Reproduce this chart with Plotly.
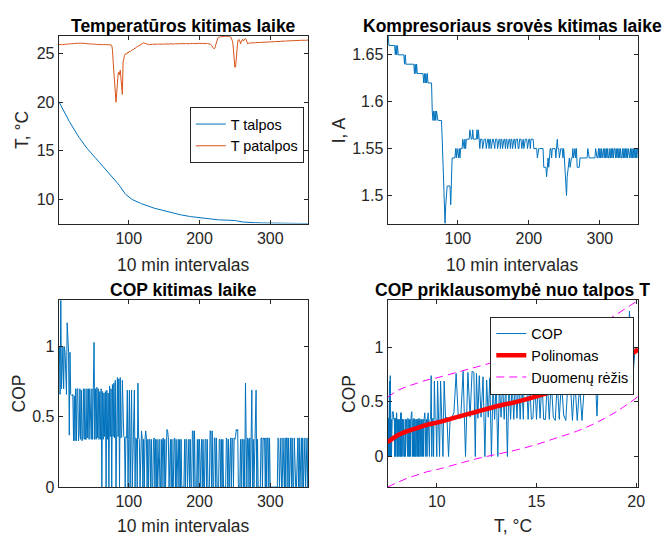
import plotly.graph_objects as go

# ---------------------------------------------------------------- data
# Tank temperature, room temperature, compressor current and COP,
# one value per 10 min interval.
t_talpos = [
    20.10, 19.95, 19.80, 19.66, 19.52, 19.38, 19.24, 19.10, 18.96, 18.82,
    18.68, 18.55, 18.42, 18.29, 18.16, 18.03, 17.90, 17.77, 17.64, 17.52,
    17.40, 17.28, 17.16, 17.04, 16.92, 16.80, 16.69, 16.58, 16.47, 16.36,
    16.25, 16.14, 16.04, 15.94, 15.84, 15.74, 15.64, 15.54, 15.45, 15.36,
    15.27, 15.18, 15.09, 15.00, 14.91, 14.82, 14.74, 14.66, 14.58, 14.50,
    14.42, 14.34, 14.26, 14.18, 14.10, 14.02, 13.94, 13.86, 13.78, 13.70,
    13.62, 13.54, 13.46, 13.38, 13.30, 13.22, 13.14, 13.06, 12.98, 12.90,
    12.82, 12.74, 12.66, 12.58, 12.50, 12.41, 12.32, 12.22, 12.13, 12.06,
    11.99, 11.93, 11.86, 11.77, 11.67, 11.56, 11.44, 11.32, 11.20, 11.08,
    10.97, 10.86, 10.76, 10.67, 10.59, 10.51, 10.44, 10.37, 10.31, 10.25,
    10.19, 10.14, 10.09, 10.04, 10.00, 9.96, 9.92, 9.88, 9.84, 9.81,
    9.78, 9.75, 9.72, 9.69, 9.66, 9.63, 9.60, 9.57, 9.54, 9.51,
    9.48, 9.45, 9.42, 9.40, 9.37, 9.34, 9.32, 9.29, 9.27, 9.24,
    9.22, 9.20, 9.17, 9.15, 9.13, 9.11, 9.09, 9.07, 9.05, 9.03,
    9.01, 8.99, 8.97, 8.95, 8.93, 8.91, 8.89, 8.87, 8.85, 8.83,
    8.81, 8.79, 8.77, 8.75, 8.73, 8.71, 8.69, 8.67, 8.66, 8.64,
    8.62, 8.60, 8.59, 8.57, 8.55, 8.54, 8.52, 8.51, 8.49, 8.48,
    8.46, 8.45, 8.43, 8.42, 8.40, 8.39, 8.38, 8.36, 8.35, 8.34,
    8.32, 8.31, 8.30, 8.29, 8.27, 8.26, 8.25, 8.24, 8.23, 8.22,
    8.21, 8.20, 8.19, 8.18, 8.17, 8.16, 8.15, 8.14, 8.13, 8.12,
    8.11, 8.10, 8.09, 8.08, 8.07, 8.06, 8.05, 8.05, 8.04, 8.03,
    8.02, 8.01, 8.00, 8.00, 7.99, 7.98, 7.97, 7.97, 7.96, 7.95,
    7.95, 7.94, 7.93, 7.93, 7.92, 7.92, 7.91, 7.91, 7.90, 7.90,
    7.89, 7.89, 7.88, 7.88, 7.88, 7.87, 7.87, 7.87, 7.87, 7.88,
    7.88, 7.89, 7.89, 7.90, 7.90, 7.90, 7.89, 7.88, 7.87, 7.85,
    7.83, 7.81, 7.79, 7.77, 7.75, 7.74, 7.73, 7.72, 7.71, 7.70,
    7.69, 7.68, 7.68, 7.67, 7.67, 7.66, 7.66, 7.65, 7.65, 7.64,
    7.64, 7.64, 7.63, 7.63, 7.63, 7.62, 7.62, 7.62, 7.61, 7.61,
    7.61, 7.61, 7.60, 7.60, 7.60, 7.60, 7.59, 7.59, 7.59, 7.59,
    7.59, 7.58, 7.58, 7.58, 7.58, 7.58, 7.57, 7.57, 7.57, 7.57,
    7.57, 7.57, 7.56, 7.56, 7.56, 7.56, 7.56, 7.56, 7.55, 7.55,
    7.55, 7.55, 7.55, 7.55, 7.55, 7.55, 7.54, 7.54, 7.54, 7.54,
    7.54, 7.54, 7.54, 7.54, 7.54, 7.54, 7.54, 7.54, 7.54, 7.54,
    7.54, 7.54, 7.53, 7.54, 7.54, 7.53, 7.54, 7.53, 7.54, 7.53,
    7.53, 7.54, 7.53, 7.53, 7.54, 7.53, 7.53, 7.53, 7.53, 7.53,
    7.53, 7.53, 7.53, 7.53,
]

t_patalpos = [
    25.92, 25.94, 25.90, 25.93, 25.95, 25.91, 25.93, 25.96, 25.94, 25.95,
    25.97, 25.95, 25.98, 25.96, 26.00, 25.98, 26.01, 25.99, 26.02, 26.00,
    26.03, 26.01, 26.04, 26.02, 26.05, 26.03, 26.06, 26.08, 26.05, 26.07,
    26.09, 26.06, 26.08, 26.05, 26.07, 26.04, 26.06, 26.03, 26.05, 26.02,
    26.03, 26.00, 26.02, 25.99, 26.01, 25.98, 26.00, 25.97, 25.99, 25.96,
    25.98, 25.95, 25.97, 25.94, 25.96, 25.93, 25.95, 25.92, 25.94, 25.93,
    25.95, 25.92, 25.94, 25.91, 25.93, 25.92, 25.94, 25.91, 25.93, 25.92,
    25.93, 25.91, 25.92, 25.90, 25.88, 25.85, 25.40, 24.20, 22.80, 21.60,
    20.60, 20.00, 20.90, 22.20, 22.90, 23.10, 22.80, 23.30, 22.60, 21.20,
    20.80, 24.10, 24.60, 24.80, 24.95, 25.00, 24.95, 25.10, 25.05, 25.20,
    25.25, 25.20, 25.32, 25.30, 25.40, 25.38, 25.48, 25.50, 25.58, 25.60,
    25.66, 25.70, 25.75, 25.80, 25.86, 25.90, 25.95, 26.00, 26.05, 26.08,
    26.10, 26.08, 26.05, 26.00, 25.98, 25.95, 25.93, 25.92, 25.94, 25.93,
    25.95, 25.94, 25.96, 25.95, 25.97, 25.96, 25.98, 25.96, 25.97, 25.95,
    25.96, 25.98, 25.97, 25.99, 25.97, 25.98, 25.96, 25.98, 25.97, 25.99,
    25.98, 26.00, 25.98, 25.99, 25.97, 25.99, 25.98, 26.00, 25.99, 26.01,
    25.99, 26.00, 25.98, 26.01, 25.99, 26.02, 26.00, 26.01, 25.99, 26.02,
    26.00, 26.02, 26.01, 26.03, 26.01, 26.02, 26.00, 26.03, 26.01, 26.02,
    26.03, 26.01, 26.04, 26.02, 26.03, 26.01, 26.04, 26.02, 26.05, 26.03,
    26.04, 26.02, 26.05, 26.03, 26.04, 26.02, 26.05, 26.03, 26.06, 26.04,
    26.05, 26.03, 26.06, 26.04, 26.05, 26.03, 26.06, 26.04, 26.05, 26.03,
    26.04, 26.02, 26.03, 26.01, 26.00, 25.95, 25.85, 25.70, 25.58, 25.52,
    25.50, 25.60, 25.90, 26.20, 26.45, 26.60, 26.65, 26.70, 26.72, 26.75,
    26.74, 26.76, 26.75, 26.77, 26.76, 26.78, 26.77, 26.79, 26.78, 26.80,
    26.78, 26.76, 26.74, 26.70, 26.60, 26.35, 26.20, 25.40, 24.20, 23.60,
    23.62, 24.80, 25.80, 26.20, 26.40, 26.45, 26.30, 26.00, 26.20, 26.40,
    26.48, 26.30, 26.35, 26.50, 26.55, 26.45, 26.20, 26.00, 26.05, 26.10,
    26.08, 26.10, 26.09, 26.11, 26.10, 26.12, 26.10, 26.11, 26.13, 26.12,
    26.13, 26.12, 26.14, 26.13, 26.15, 26.14, 26.16, 26.15, 26.17, 26.16,
    26.17, 26.16, 26.18, 26.17, 26.19, 26.18, 26.20, 26.19, 26.21, 26.20,
    26.21, 26.20, 26.22, 26.21, 26.23, 26.22, 26.24, 26.23, 26.25, 26.24,
    26.25, 26.24, 26.26, 26.25, 26.27, 26.26, 26.28, 26.27, 26.29, 26.28,
    26.29, 26.28, 26.30, 26.29, 26.31, 26.30, 26.32, 26.31, 26.33, 26.32,
    26.33, 26.32, 26.34, 26.33, 26.35, 26.34, 26.35, 26.34, 26.36, 26.35,
    26.36, 26.35, 26.37, 26.36, 26.37, 26.36, 26.38, 26.37, 26.38, 26.37,
    26.38, 26.37, 26.38, 26.38,
]

srove = [
    1.67, 1.67, 1.66, 1.66, 1.66, 1.66, 1.66, 1.66, 1.66, 1.66,
    1.66, 1.65, 1.66, 1.65, 1.66, 1.65, 1.65, 1.65, 1.65, 1.65,
    1.65, 1.65, 1.65, 1.65, 1.64, 1.65, 1.64, 1.64, 1.64, 1.64,
    1.64, 1.64, 1.64, 1.64, 1.64, 1.64, 1.64, 1.64, 1.63, 1.64,
    1.63, 1.64, 1.63, 1.63, 1.63, 1.63, 1.63, 1.63, 1.63, 1.63,
    1.63, 1.62, 1.63, 1.62, 1.63, 1.62, 1.63, 1.62, 1.62, 1.62,
    1.62, 1.62, 1.62, 1.59, 1.58, 1.59, 1.58, 1.59, 1.58, 1.59,
    1.58, 1.58, 1.58, 1.58, 1.58, 1.58, 1.58, 1.56, 1.53, 1.50,
    1.50, 1.47, 1.49, 1.51, 1.51, 1.51, 1.51, 1.51, 1.51, 1.49,
    1.52, 1.54, 1.54, 1.54, 1.54, 1.54, 1.55, 1.54, 1.55, 1.54,
    1.54, 1.55, 1.54, 1.55, 1.55, 1.55, 1.56, 1.55, 1.55, 1.56,
    1.55, 1.56, 1.56, 1.56, 1.56, 1.56, 1.57, 1.56, 1.56, 1.56,
    1.57, 1.56, 1.56, 1.56, 1.56, 1.56, 1.57, 1.56, 1.57, 1.56,
    1.55, 1.56, 1.56, 1.56, 1.55, 1.56, 1.56, 1.56, 1.56, 1.55,
    1.56, 1.56, 1.56, 1.55, 1.56, 1.56, 1.55, 1.56, 1.56, 1.56,
    1.55, 1.55, 1.56, 1.56, 1.56, 1.55, 1.56, 1.56, 1.56, 1.55,
    1.56, 1.56, 1.55, 1.56, 1.56, 1.56, 1.55, 1.56, 1.56, 1.55,
    1.56, 1.56, 1.56, 1.55, 1.56, 1.56, 1.55, 1.56, 1.56, 1.56,
    1.55, 1.56, 1.56, 1.56, 1.55, 1.55, 1.56, 1.56, 1.56, 1.55,
    1.56, 1.56, 1.55, 1.56, 1.56, 1.56, 1.56, 1.55, 1.56, 1.56,
    1.56, 1.55, 1.56, 1.56, 1.56, 1.56, 1.55, 1.55, 1.55, 1.55,
    1.55, 1.54, 1.55, 1.55, 1.55, 1.55, 1.55, 1.55, 1.55, 1.55,
    1.53, 1.53, 1.53, 1.53, 1.52, 1.53, 1.54, 1.53, 1.55, 1.55,
    1.55, 1.54, 1.55, 1.55, 1.55, 1.55, 1.55, 1.54, 1.55, 1.56,
    1.55, 1.55, 1.54, 1.55, 1.55, 1.55, 1.55, 1.54, 1.55, 1.54,
    1.53, 1.52, 1.50, 1.52, 1.53, 1.53, 1.54, 1.53, 1.54, 1.54,
    1.54, 1.55, 1.54, 1.55, 1.55, 1.54, 1.55, 1.53, 1.53, 1.53,
    1.53, 1.54, 1.54, 1.54, 1.54, 1.54, 1.54, 1.54, 1.54, 1.54,
    1.54, 1.54, 1.55, 1.54, 1.54, 1.54, 1.54, 1.54, 1.54, 1.54,
    1.54, 1.54, 1.54, 1.55, 1.54, 1.54, 1.54, 1.55, 1.54, 1.55,
    1.54, 1.55, 1.54, 1.55, 1.55, 1.54, 1.55, 1.54, 1.55, 1.54,
    1.55, 1.54, 1.54, 1.55, 1.54, 1.55, 1.54, 1.55, 1.54, 1.55,
    1.55, 1.54, 1.55, 1.54, 1.55, 1.54, 1.55, 1.54, 1.55, 1.54,
    1.54, 1.55, 1.54, 1.55, 1.54, 1.55, 1.54, 1.55, 1.54, 1.55,
    1.54, 1.54, 1.55, 1.54, 1.55, 1.54, 1.55, 1.54, 1.55, 1.54,
    1.55, 1.54, 1.55, 1.55,
]

cop = [
    0.96, 1.00, 0.66, 1.33, 0.70, 0.96, 1.00, 0.70, 1.00, 0.96,
    0.70, 0.66, 1.17, 0.96, 0.96, 0.37, 0.96, 0.66, 0.65, 0.65,
    0.66, 0.33, 0.65, 0.33, 0.70, 0.33, 0.70, 0.70, 0.33, 0.38,
    0.70, 0.34, 0.69, 0.33, 0.36, 0.70, 0.34, 0.70, 0.34, 0.34,
    0.70, 0.35, 0.70, 0.34, 0.70, 0.35, 0.34, 0.70, 0.34, 0.71,
    1.03, 0.34, 0.70, 0.34, 0.71, 0.35, 0.70, 0.34, 0.68, 0.34,
    0.70, 0.00, 0.68, 0.34, 0.67, 0.36, 0.68, 0.00, 0.69, 0.34,
    0.67, 0.00, 0.72, 0.36, 0.70, 0.00, 0.73, 0.36, 0.74, 0.35,
    0.76, 0.00, 0.77, 0.78, 0.36, 0.77, 0.00, 0.78, 0.35, 0.36,
    0.76, 0.40, 0.36, 0.35, 0.00, 0.36, 0.35, 0.69, 0.00, 0.34,
    0.69, 0.00, 0.35, 0.69, 0.00, 0.34, 0.35, 0.69, 0.00, 0.35,
    0.34, 0.00, 0.74, 0.35, 0.34, 0.00, 0.34, 0.40, 0.35, 0.00,
    0.34, 0.00, 0.34, 0.40, 0.35, 0.00, 0.34, 0.00, 0.34, 0.34,
    0.00, 0.34, 0.00, 0.00, 0.34, 0.35, 0.00, 0.34, 0.00, 0.34,
    0.00, 0.34, 0.34, 0.00, 0.00, 0.34, 0.00, 0.34, 0.35, 0.00,
    0.34, 0.00, 0.35, 0.41, 0.40, 0.35, 0.00, 0.34, 0.34, 0.00,
    0.34, 0.00, 0.00, 0.34, 0.35, 0.00, 0.34, 0.00, 0.34, 0.34,
    0.00, 0.34, 0.00, 0.34, 0.00, 0.00, 0.00, 0.00, 0.34, 0.00,
    0.34, 0.34, 0.00, 0.34, 0.34, 0.00, 0.34, 0.00, 0.00, 0.40,
    0.40, 0.00, 0.40, 0.00, 0.00, 0.00, 0.34, 0.00, 0.34, 0.34,
    0.00, 0.34, 0.34, 0.00, 0.34, 0.00, 0.00, 0.34, 0.34, 0.00,
    0.34, 0.00, 0.00, 0.00, 0.40, 0.40, 0.00, 0.40, 0.00, 0.00,
    0.35, 0.35, 0.00, 0.35, 0.00, 0.00, 0.00, 0.34, 0.34, 0.00,
    0.34, 0.00, 0.34, 0.00, 0.00, 0.00, 0.00, 0.35, 0.34, 0.00,
    0.34, 0.00, 0.34, 0.35, 0.00, 0.35, 0.34, 0.00, 0.35, 0.34,
    0.36, 0.41, 0.40, 0.41, 0.00, 0.00, 0.00, 0.34, 0.00, 0.34,
    0.34, 0.00, 0.34, 0.00, 0.74, 0.34, 0.00, 0.35, 0.34, 0.00,
    0.35, 0.00, 0.34, 0.69, 0.00, 0.34, 0.00, 0.34, 0.34, 0.69,
    0.00, 0.34, 0.00, 0.00, 0.00, 0.00, 0.35, 0.35, 0.00, 0.35,
    0.34, 0.35, 0.00, 0.35, 0.00, 0.35, 0.35, 0.00, 0.35, 0.00,
    0.00, 0.00, 0.00, 0.00, 0.00, 0.00, 0.00, 0.00, 0.00, 0.00,
    0.35, 0.34, 0.00, 0.35, 0.35, 0.00, 0.00, 0.35, 0.00, 0.00,
    0.35, 0.00, 0.35, 0.35, 0.00, 0.35, 0.00, 0.35, 0.35, 0.00,
    0.35, 0.00, 0.00, 0.35, 0.00, 0.00, 0.00, 0.35, 0.35, 0.00,
    0.35, 0.00, 0.35, 0.35, 0.00, 0.35, 0.00, 0.35, 0.35, 0.00,
    0.35, 0.35, 0.00, 0.35,
]

# Fitted COP(T) polynomial and its data bounds
fit_t = [7.53, 8.0, 8.5, 9.0, 9.5, 10.0, 11.0, 12.0, 13.0, 14.0,
         15.0, 16.0, 17.0, 18.0, 19.0, 20.10]
fit_cop = [0.13, 0.19, 0.23, 0.26, 0.29, 0.31, 0.36, 0.41, 0.46, 0.50,
           0.55, 0.61, 0.67, 0.75, 0.85, 0.98]
fit_upper = [0.54, 0.60, 0.64, 0.67, 0.70, 0.72, 0.77, 0.82, 0.87, 0.92,
             0.97, 1.03, 1.10, 1.19, 1.30, 1.43]
fit_lower = [-0.28, -0.24, -0.20, -0.17, -0.14, -0.12, -0.07, -0.02, 0.02, 0.06,
             0.11, 0.17, 0.23, 0.31, 0.41, 0.55]

# ---------------------------------------------------------------- layout helpers
W, H = 669, 544
FONT = "Liberation Sans, Arial, Helvetica, sans-serif"
AX_COLOR = "#262626"
BLUE = "#0072BD"
ORANGE = "#D95319"


def fx(p):
    return p / W


def fy(p):
    return 1 - p / H


# Plot boxes in pixels: (left, right, top, bottom)
BOX = {
    1: (59.3, 311.7, 36.7, 227.3),
    2: (391.6, 645.0, 36.7, 227.3),
    3: (59.3, 311.7, 305.3, 495.3),
    4: (391.6, 645.0, 305.3, 495.3),
}

n = len(t_talpos)
intervals = list(range(1, n + 1))

fig = go.Figure()

# Temperatures over time
fig.add_trace(go.Scatter(x=intervals, y=t_talpos, mode="lines", name="T talpos",
                         line=dict(color=BLUE, width=1), xaxis="x", yaxis="y",
                         legend="legend"))
fig.add_trace(go.Scatter(x=intervals, y=t_patalpos, mode="lines", name="T patalpos",
                         line=dict(color=ORANGE, width=1), xaxis="x", yaxis="y",
                         legend="legend"))

# Compressor current over time
fig.add_trace(go.Scatter(x=intervals, y=srove, mode="lines", showlegend=False,
                         line=dict(color=BLUE, width=1), xaxis="x2", yaxis="y2"))

# COP over time
fig.add_trace(go.Scatter(x=intervals, y=cop, mode="lines", showlegend=False,
                         line=dict(color=BLUE, width=1), xaxis="x3", yaxis="y3"))

# COP against tank temperature, with the fitted polynomial and bounds
fig.add_trace(go.Scatter(x=t_talpos, y=cop, mode="lines", name="COP",
                         line=dict(color=BLUE, width=1), xaxis="x4", yaxis="y4",
                         legend="legend2"))
fig.add_trace(go.Scatter(x=fit_t, y=fit_cop, mode="lines", name="Polinomas",
                         line=dict(color="#FF0000", width=4.5, shape="spline"),
                         xaxis="x4", yaxis="y4", legend="legend2"))
fig.add_trace(go.Scatter(x=fit_t, y=fit_upper, mode="lines", name="Duomenų rėžis",
                         line=dict(color="#FF00FF", width=1, dash="8px,5px", shape="spline"),
                         xaxis="x4", yaxis="y4", legend="legend2"))
fig.add_trace(go.Scatter(x=fit_t, y=fit_lower, mode="lines", showlegend=False,
                         line=dict(color="#FF00FF", width=1, dash="8px,5px", shape="spline"),
                         xaxis="x4", yaxis="y4", legend="legend2"))


def axis_style(k, rng, tickvals, ticktext=None):
    return dict(
        domain=[fx(BOX[k][0]), fx(BOX[k][1])],
        range=rng,
        tickvals=tickvals,
        ticktext=ticktext,
        showline=True, mirror="ticks", linecolor=AX_COLOR, linewidth=1,
        ticks="inside", ticklen=4, tickwidth=1, tickcolor=AX_COLOR,
        showgrid=False, zeroline=False,
        tickfont=dict(family=FONT, size=16, color=AX_COLOR),
        fixedrange=True,
    )


def yaxis_style(k, rng, tickvals, ticktext=None):
    d = axis_style(k, rng, tickvals, ticktext)
    d["domain"] = [fy(BOX[k][3]), fy(BOX[k][2])]
    return d


x_rng = [1, n]
all_fit = fit_upper + fit_lower

layout = dict(
    width=W, height=H,
    margin=dict(l=0, r=0, t=0, b=0),
    paper_bgcolor="white", plot_bgcolor="white",
    font=dict(family=FONT, color=AX_COLOR),
    xaxis=axis_style(1, x_rng, [100, 200, 300]),
    yaxis=yaxis_style(1, [min(t_talpos), max(t_patalpos)], [10, 15, 20, 25]),
    xaxis2=axis_style(2, x_rng, [100, 200, 300]),
    yaxis2=yaxis_style(2, [min(srove), max(srove)], [1.5, 1.55, 1.6, 1.65],
                       ["1.5", "1.55", "1.6", "1.65"]),
    xaxis3=axis_style(3, x_rng, [100, 200, 300]),
    yaxis3=yaxis_style(3, [min(cop), max(cop)], [0, 0.5, 1], ["0", "0.5", "1"]),
    xaxis4=axis_style(4, [min(t_talpos), max(t_talpos)], [10, 15, 20]),
    yaxis4=yaxis_style(4, [min(all_fit), max(all_fit)], [0, 0.5, 1], ["0", "0.5", "1"]),
    legend=dict(
        x=fx(307), y=fy(109), xanchor="right", yanchor="top",
        bgcolor="white", bordercolor=AX_COLOR, borderwidth=1,
        font=dict(family=FONT, size=14.4, color="#000000"),
        tracegroupgap=0,
    ),
    legend2=dict(
        x=fx(641), y=fy(322), xanchor="right", yanchor="top",
        bgcolor="white", bordercolor=AX_COLOR, borderwidth=1,
        font=dict(family=FONT, size=14.4, color="#000000"),
        tracegroupgap=0,
    ),
)
for k in (1, 2, 3, 4):
    layout["yaxis" if k == 1 else f"yaxis{k}"]["anchor"] = "x" if k == 1 else f"x{k}"
    layout["xaxis" if k == 1 else f"xaxis{k}"]["anchor"] = "y" if k == 1 else f"y{k}"

fig.update_layout(**layout)


def text(label, x, y, size, bold=False, angle=0, color="#000000"):
    fig.add_annotation(
        text=f"<b>{label}</b>" if bold else label,
        x=fx(x), y=fy(y), xref="paper", yref="paper",
        xanchor="center", yanchor="middle", showarrow=False,
        textangle=angle, font=dict(family=FONT, size=size, color=color),
    )


def cx(k):
    return (BOX[k][0] + BOX[k][1]) / 2


def cy(k):
    return (BOX[k][2] + BOX[k][3]) / 2


# Subplot titles
text("Temperatūros kitimas laike", cx(1), 26.5, 17.5, bold=True)
text("Kompresoriaus srovės kitimas laike", cx(2), 26.5, 17.5, bold=True)
text("COP kitimas laike", cx(3), 295, 17.5, bold=True)
text("COP priklausomybė nuo talpos T", cx(4), 295, 17.5, bold=True)

# Axis labels
text("10 min intervalas", cx(1), 269, 17.5, color=AX_COLOR)
text("10 min intervalas", cx(2), 269, 17.5, color=AX_COLOR)
text("10 min intervalas", cx(3), 535, 17.5, color=AX_COLOR)
text("T, °C", cx(4), 535, 17.5, color=AX_COLOR)
text("T, °C", 22.5, cy(1), 17.5, angle=-90, color=AX_COLOR)
text("I, A", 342, cy(2), 17.5, angle=-90, color=AX_COLOR)
text("COP", 19, cy(3), 17.5, angle=-90, color=AX_COLOR)
text("COP", 352, cy(4), 17.5, angle=-90, color=AX_COLOR)

fig.write_html("out.html")
